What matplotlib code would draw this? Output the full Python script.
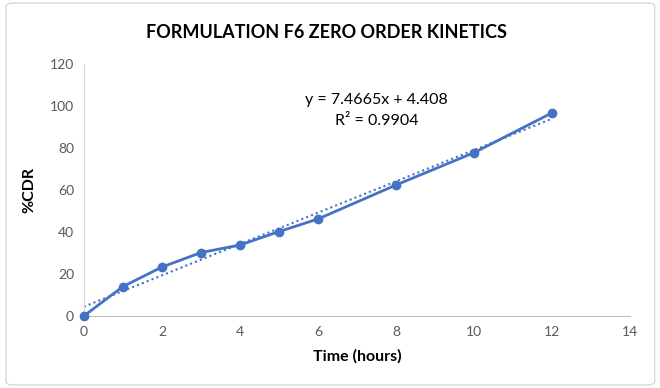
import matplotlib.pyplot as plt
import numpy as np
from matplotlib.patches import FancyBboxPatch

time_hours = [0, 1, 2, 3, 4, 5, 6, 8, 10, 12]
cdr_percent = [0, 14.0, 23.3, 30.2, 33.8, 40.2, 46.2, 62.4, 77.8, 96.8]
slope = 7.4665
intercept = 4.408
r_squared = 0.9904

x_ticks = [0, 2, 4, 6, 8, 10, 12, 14]
y_ticks = [0, 20, 40, 60, 80, 100, 120]

LINE_BLUE = "#4472c4"
TICK_GREY = "#595959"

plt.rcParams["font.family"] = ["Lato", "DejaVu Sans"]

fig = plt.figure(figsize=(6.6, 3.88), dpi=100)
border = FancyBboxPatch((0.009, 0.008), 0.983, 0.984, boxstyle="round,pad=0,rounding_size=0.01",
                        transform=fig.transFigure, facecolor="none", edgecolor="#d9d9d9",
                        linewidth=1.0, zorder=-1)
fig.patches.append(border)
ax = fig.add_axes([0.127, 0.1856, 0.828, 0.6494])
ax.set_facecolor("none")

ax.plot(time_hours, cdr_percent, color=LINE_BLUE, linewidth=2, marker="o", markersize=6,
        zorder=3, clip_on=False)

fit_x = np.array([time_hours[0], time_hours[-1]])
ax.plot(fit_x, slope * fit_x + intercept, color=LINE_BLUE, linestyle=(0, (1, 1.5)), linewidth=1.5, zorder=2)

ax.set_xlim(0, 14)
ax.set_ylim(0, 120)
ax.set_xticks(x_ticks)
ax.set_yticks(y_ticks)
ax.tick_params(length=0, labelsize=10, colors=TICK_GREY, pad=7)

for spine in ("top", "right"):
    ax.spines[spine].set_visible(False)
ax.spines["left"].set_color("#d9d9d9")
ax.spines["bottom"].set_color("#bfbfbf")

ax.set_xlabel("Time (hours)", fontsize=11.5, fontweight="bold", color="black", labelpad=8)
ax.set_ylabel("%CDR", fontsize=11.5, fontweight="bold", color="black", labelpad=10)

fig.text(0.495, 0.915, "FORMULATION F6 ZERO ORDER KINETICS", ha="center", va="center",
         fontsize=13, fontweight="bold")

ax.text(7.5, 103, f"y = {slope}x + {intercept}", ha="center", va="center", fontsize=11.5)
ax.text(7.5, 93, f"R² = {r_squared}", ha="center", va="center", fontsize=11.5)

fig.savefig("out.png", dpi=100)
